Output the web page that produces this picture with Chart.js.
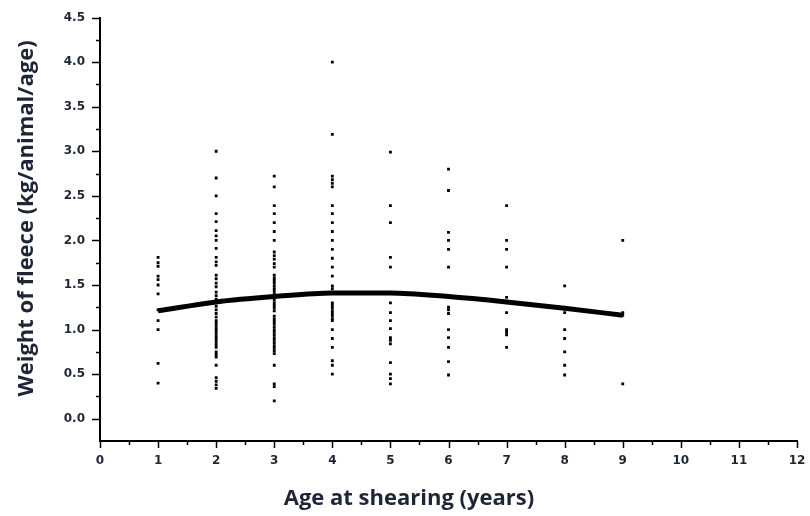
<!DOCTYPE html>
<html>
<head>
<meta charset="utf-8">
<script src="https://cdn.jsdelivr.net/npm/chart.js@4/dist/chart.umd.min.js"></script>
<style>
  html, body { margin: 0; padding: 0; background: #ffffff; }
  #wrap { width: 810px; height: 516px; position: relative; }
</style>
</head>
<body>
<div id="wrap"><canvas id="c"></canvas></div>
<script>
// ---- data ----
const ages = [1, 2, 3, 4, 5, 6, 7, 8, 9];
const weightsAge1 = [1.81, 1.75, 1.71, 1.60, 1.56, 1.50, 1.40, 1.22, 1.10, 1.00, 0.62, 0.40];
const weightsAge2 = [3.00, 2.70, 2.50, 2.30, 2.21, 2.11, 2.05, 2.00, 1.91, 1.81, 1.76, 1.72, 1.61, 1.57, 1.52, 1.48,
  1.42, 1.38, 1.34, 1.30, 1.26, 1.22, 1.18, 1.14, 1.10, 1.07, 1.04, 1.01, 0.98, 0.95, 0.92, 0.89, 0.86, 0.83, 0.80,
  0.75, 0.72, 0.69, 0.60, 0.46, 0.42, 0.38, 0.34];
const weightsAge3 = [2.72, 2.60, 2.39, 2.30, 2.20, 2.10, 2.00, 1.87, 1.83, 1.79, 1.74, 1.70, 1.61, 1.58, 1.55, 1.52,
  1.49, 1.46, 1.43, 1.40, 1.33, 1.30, 1.27, 1.24, 1.21, 1.15, 1.12, 1.09, 1.06, 1.03, 1.00, 0.97, 0.94, 0.91, 0.88,
  0.85, 0.82, 0.79, 0.76, 0.73, 0.60, 0.39, 0.36, 0.20];
const weightsAge4 = [4.00, 3.19, 2.72, 2.68, 2.64, 2.60, 2.39, 2.30, 2.20, 2.10, 2.00, 1.90, 1.80, 1.70, 1.60, 1.49,
  1.46, 1.42, 1.30, 1.27, 1.24, 1.21, 1.18, 1.15, 1.12, 1.10, 1.00, 0.90, 0.80, 0.65, 0.60, 0.50];
const weightsAge5 = [2.99, 2.39, 2.20, 1.81, 1.70, 1.30, 1.19, 1.10, 1.01, 0.91, 0.88, 0.84, 0.63, 0.50, 0.45, 0.39];
const weightsAge6 = [2.80, 2.56, 2.09, 2.00, 1.90, 1.70, 1.38, 1.25, 1.22, 1.18, 1.00, 0.91, 0.80, 0.64, 0.49];
const weightsAge7 = [2.39, 2.00, 1.90, 1.70, 1.36, 1.19, 1.00, 0.97, 0.94, 0.80];
const weightsAge8 = [1.49, 1.19, 1.00, 0.90, 0.75, 0.60, 0.49];
const weightsAge9 = [2.00, 1.19, 1.16, 0.39];
const fittedWeights = [1.21, 1.31, 1.37, 1.41, 1.41, 1.37, 1.31, 1.24, 1.16];

const xTickValues = [0, 1, 2, 3, 4, 5, 6, 7, 8, 9, 10, 11, 12];
const yTickValues = [0.0, 0.5, 1.0, 1.5, 2.0, 2.5, 3.0, 3.5, 4.0, 4.5];
const xTitle = 'Age at shearing (years)';
const yTitle = 'Weight of fleece (kg/animal/age)';

// ---- build points ----
const weightsByAge = [weightsAge1, weightsAge2, weightsAge3, weightsAge4, weightsAge5,
  weightsAge6, weightsAge7, weightsAge8, weightsAge9];
const scatterPoints = [];
weightsByAge.forEach((list, i) => list.forEach(v => scatterPoints.push({ x: ages[i], y: v })));
const fitPoints = ages.map((a, i) => ({ x: a, y: fittedWeights[i] }));

const TEXT = '#1e2636';
const near = (a, b) => Math.abs(a - b) < 1e-6;

const tickMarks = {
  id: 'tickMarks',
  afterDraw(chart) {
    const ctx = chart.ctx, xs = chart.scales.x, ys = chart.scales.y;
    const ca = chart.chartArea;
    ctx.save();
    ctx.strokeStyle = '#000';
    ctx.lineWidth = 1.5;
    ys.ticks.forEach(t => {
      if (t.value < 0) return;
      const major = yTickValues.some(v => near(v, t.value));
      const p = Math.round(ys.getPixelForValue(t.value)) + 0.5;
      ctx.beginPath();
      ctx.moveTo(ca.left, p);
      ctx.lineTo(ca.left - (major ? 8 : 4), p);
      ctx.stroke();
    });
    xs.ticks.forEach(t => {
      const major = xTickValues.some(v => near(v, t.value));
      const p = Math.round(xs.getPixelForValue(t.value)) + 0.5;
      ctx.beginPath();
      ctx.moveTo(p, ca.bottom);
      ctx.lineTo(p, ca.bottom + (major ? 7 : 4));
      ctx.stroke();
    });
    // axis titles
    ctx.fillStyle = TEXT;
    ctx.font = 'bold 22px "Open Sans"';
    ctx.textAlign = 'center';
    ctx.textBaseline = 'alphabetic';
    ctx.fillText(xTitle, ca.left + 309, 505);
    ctx.translate(33, ca.top + 201);
    ctx.rotate(-Math.PI / 2);
    ctx.fillText(yTitle, 0, 0);
    ctx.restore();
  }
};

const noPad = s => { s.paddingTop = 0; s.paddingBottom = 0; s.paddingLeft = 0; s.paddingRight = 0; };

new Chart(document.getElementById('c'), {
  type: 'scatter',
  data: {
    datasets: [
      {
        label: 'observed',
        data: scatterPoints,
        pointStyle: 'rect',
        pointRadius: 2,
        pointBorderWidth: 0,
        backgroundColor: '#000',
        borderColor: '#000',
        order: 2
      },
      {
        label: 'fit',
        type: 'line',
        data: fitPoints,
        borderColor: '#000',
        borderWidth: 5,
        pointRadius: 0,
        cubicInterpolationMode: 'monotone',
        fill: false,
        order: 1
      }
    ]
  },
  options: {
    responsive: true,
    maintainAspectRatio: false,
    animation: false,
    events: [],
    layout: { padding: { left: 0, right: 13, top: 17.5, bottom: 0 } },
    plugins: { legend: { display: false }, tooltip: { enabled: false } },
    scales: {
      x: {
        type: 'linear',
        min: 0, max: 12,
        afterFit: s => { s.height = 75; noPad(s); },
        border: { display: true, color: '#000', width: 2 },
        grid: { display: true, drawOnChartArea: false, drawTicks: false },
        ticks: {
          stepSize: 0.5,
          autoSkip: false,
          maxRotation: 0,
          padding: 13,
          color: TEXT,
          font: { family: 'DejaVu Sans', weight: 'bold', size: 12 },
          callback: v => xTickValues.some(t => near(t, v)) ? String(Math.round(v)) : ''
        }
      },
      y: {
        type: 'linear',
        min: -0.25, max: 4.5,
        afterFit: s => { s.width = 100; noPad(s); },
        border: { display: true, color: '#000', width: 2 },
        grid: { display: true, drawOnChartArea: false, drawTicks: false },
        ticks: {
          stepSize: 0.25,
          autoSkip: false,
          padding: 15,
          color: TEXT,
          font: { family: 'DejaVu Sans', weight: 'bold', size: 12 },
          callback: v => (v >= 0 && yTickValues.some(t => near(t, v))) ? v.toFixed(1) : ''
        }
      }
    }
  },
  plugins: [tickMarks]
});
</script>
</body>
</html>
